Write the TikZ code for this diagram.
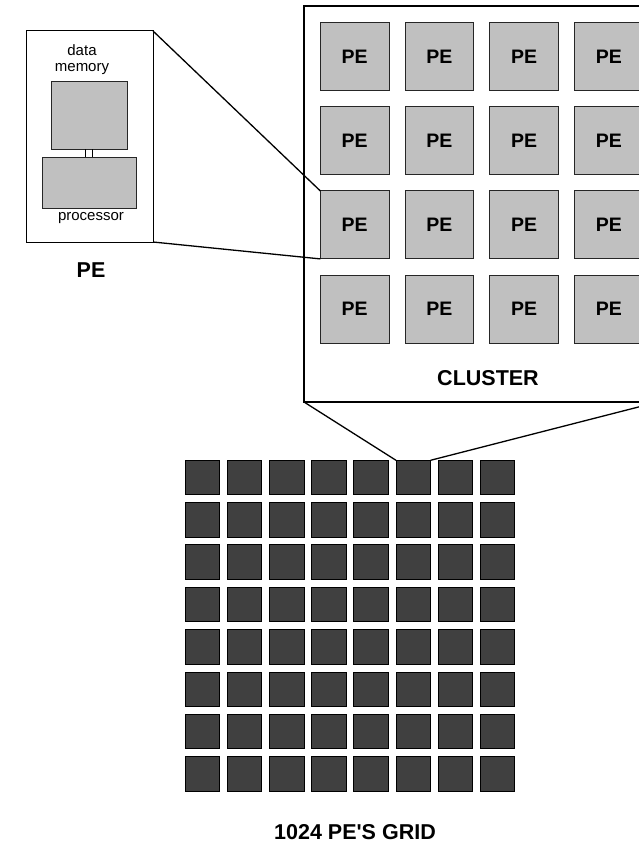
\documentclass[tikz,border=0pt]{standalone}
\usepackage{fontspec}
\setmainfont{Liberation Sans}
\definecolor{pelight}{HTML}{C0C0C0}
\definecolor{griddark}{HTML}{404040}
\begin{document}
\begin{tikzpicture}[x=1pt,y=-1pt,
  pebox/.style={draw=black, line width=1pt, inner sep=0pt, outer sep=0pt, fill=white},
  part/.style={draw=black!85, fill=pelight, line width=1pt, inner sep=0pt, outer sep=0pt},
  clusterbox/.style={draw=black, line width=2pt, inner sep=0pt, outer sep=0pt, fill=white},
  pecell/.style={draw=black!85, fill=pelight, line width=1pt, inner sep=0pt, outer sep=0pt,
     minimum width=68.7pt, minimum height=68pt, font=\fontsize{19.5}{20}\selectfont\bfseries},
  gridcell/.style={draw=black, fill=griddark, line width=1pt, inner sep=0pt, outer sep=0pt,
     minimum width=34.5pt, minimum height=34.5pt},
  small/.style={font=\fontsize{15}{17}\selectfont, inner sep=0pt},
  biglabel/.style={font=\fontsize{21.5}{24}\selectfont\bfseries, inner sep=0pt},
  conn/.style={draw=black, line width=1.3pt}
]
\useasboundingbox (0,0) rectangle (639,843);

% PE detail box
\node[pebox, minimum width=127pt, minimum height=211pt] (pe) at (89.5,136.5) {};
\node[part, minimum width=76pt, minimum height=68pt] (mem) at (89,115) {};
\node[part, minimum width=94pt, minimum height=51pt] (proc) at (89,182.5) {};
\draw[line width=1pt] ([xshift=-3.8pt]mem.south) -- ([xshift=-3.8pt]proc.north);
\draw[line width=1pt] ([xshift=3.8pt]mem.south) -- ([xshift=3.8pt]proc.north);
\node[small] (tdata) at (82,50) {data};
\node[small] (tmem) at (82,69) {memory};
\node[small] (tproc) at (91,218) {processor};
\node[biglabel] (pelabel) at (91,270) {PE};

% Cluster
\node[clusterbox, minimum width=354pt, minimum height=396pt] (cluster) at (481,204) {};
\foreach \r in {1,...,4} {
  \foreach \c in {1,...,4} {
    \node[pecell] (c-\r-\c) at ({354.65+84.7*(\c-1)},{56.3+84.3*(\r-1)}) {PE};
  }
}
\node[biglabel] (clabel) at (488,377.7) {CLUSTER};

% Grid
\foreach \r in {1,...,8} {
  \foreach \c in {1,...,8} {
    \node[gridcell] (g-\r-\c) at ({202.55+42.14*(\c-1)},{477.55+42.34*(\r-1)}) {};
  }
}
\node[biglabel] (glabel) at (355,832) {1024 PE\textquotesingle S GRID};

% Connectors
\draw[conn] (pe.north east) -- (c-3-1.north west);
\draw[conn] (pe.south east) -- (c-3-1.south west);
\draw[conn] (cluster.south west) -- (g-1-6.north west);
\draw[conn] (cluster.south east) -- (g-1-6.north east);
\end{tikzpicture}
\end{document}
